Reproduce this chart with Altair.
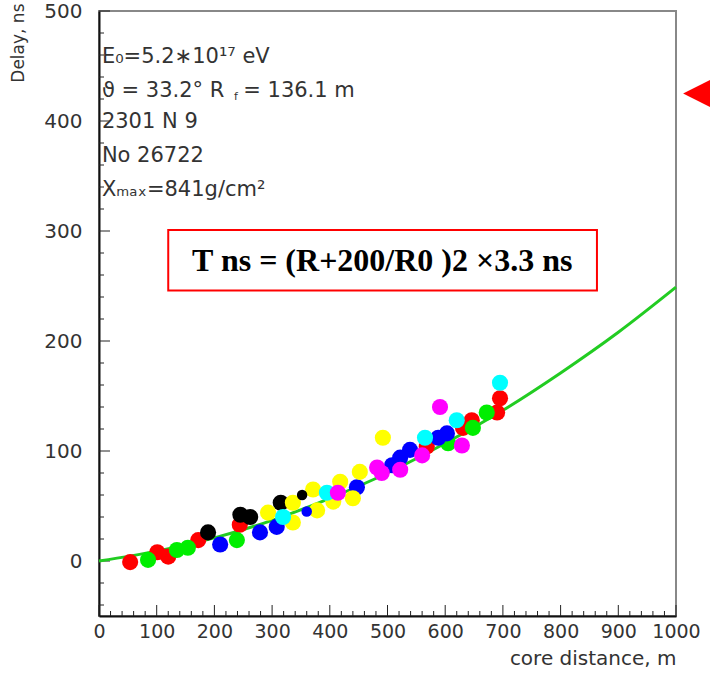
import altair as alt
import pandas as pd

# Fitted delay curve, T(R)
curve_r = [0, 100, 200, 300, 400, 500, 600, 700, 800, 900, 1000]
curve_t = [0, 9, 21, 37, 57, 80, 107, 137, 171, 208, 249]

# Measured delays per detector group: core distance (m) and delay (ns)
red_r = [54, 101, 120, 172, 244, 568, 631, 646, 690, 695]
red_t = [-1, 8, 4, 19, 33, 104, 121, 128, 135, 148]
green_r = [85, 135, 154, 239, 605, 648, 672]
green_t = [1, 10, 12, 19, 107, 121, 135]
blue_r = [210, 279, 308, 447, 508, 522, 539, 588, 603]
blue_t = [15, 26, 31, 67, 87, 94, 101, 112, 116]
black_r = [189, 245, 262, 315]
black_t = [26, 42, 40, 53]
yellow_r = [293, 336, 336, 371, 378, 406, 418, 440, 452, 492]
yellow_t = [44, 53, 35, 65, 46, 54, 72, 57, 81, 112]
cyan_r = [319, 395, 565, 620, 695]
cyan_t = [40, 62, 112, 128, 162]
magenta_r = [414, 482, 490, 522, 560, 591, 629]
magenta_t = [62, 85, 80, 83, 96, 140, 105]
# smaller hits
small_r = [352, 360]
small_t = [60, 45]
small_g = ["black", "blue"]

groups = {
    "red": (red_r, red_t),
    "green": (green_r, green_t),
    "blue": (blue_r, blue_t),
    "black": (black_r, black_t),
    "yellow": (yellow_r, yellow_t),
    "cyan": (cyan_r, cyan_t),
    "magenta": (magenta_r, magenta_t),
}
palette = {
    "red": "#ff0000", "green": "#00ee00", "blue": "#0000ff", "black": "#000000",
    "yellow": "#ffff00", "cyan": "#00ffff", "magenta": "#ff00ff",
}

rows = []
for g, (rs, ts) in groups.items():
    for r, t in zip(rs, ts):
        rows.append({"r": r, "t": t, "g": g})
pts = pd.DataFrame(rows)
small = pd.DataFrame({"r": small_r, "t": small_t, "g": small_g})
curve = pd.DataFrame({"r": curve_r, "t": curve_t})

x_ticks = list(range(0, 1001, 20))
y_ticks = list(range(-40, 501, 20))
x_major = pd.DataFrame({"v": [v for v in x_ticks if v % 100 == 0]})
x_minor = pd.DataFrame({"v": [v for v in x_ticks if v % 100 != 0]})
y_major = pd.DataFrame({"v": [v for v in y_ticks if v % 100 == 0]})
y_minor = pd.DataFrame({"v": [v for v in y_ticks if v % 100 != 0]})

W, H = 577, 605
FONT = "DejaVu Sans"
TXT = "#333"
xs = alt.Scale(domain=[0, 1000], nice=False, zero=False)
ys = alt.Scale(domain=[-50, 500], nice=False, zero=False)
cs = alt.Scale(domain=list(palette.keys()), range=list(palette.values()))

base_axes = alt.Chart(curve).mark_line(opacity=0).encode(
    x=alt.X("r:Q", scale=xs, axis=alt.Axis(
        title="core distance, m", values=list(range(0, 1001, 100)), format="d",
        tickSize=0, labelPadding=6, labelFontSize=19, labelFont=FONT, labelColor=TXT,
        labelOverlap=False, labelFlush=False,
        domainColor="#111", domainWidth=2, grid=False,
        titleFont=FONT, titleFontSize=20, titleFontWeight="normal", titleColor=TXT,
        titleAnchor="end", titlePadding=7)),
    y=alt.Y("t:Q", scale=ys, axis=alt.Axis(
        title="Delay, ns", values=list(range(0, 501, 100)), format="d",
        tickSize=0, labelPadding=17, labelFontSize=20, labelFont=FONT, labelColor=TXT,
        labelOverlap=False, labelFlush=False,
        domainColor="#111", domainWidth=2, grid=False,
        titleFont=FONT, titleFontSize=17, titleFontWeight="normal", titleColor=TXT,
        titleAnchor="end", titleX=-81, titleY=-8, titleAlign="right", titleBaseline="middle")),
)

def xtick(df, length):
    return alt.Chart(df).mark_rule(color="#222", strokeWidth=1).encode(
        x=alt.X("v:Q", scale=xs), y=alt.value(H), y2=alt.value(H - length))

def ytick(df, length):
    return alt.Chart(df).mark_rule(color="#222", strokeWidth=1).encode(
        y=alt.Y("v:Q", scale=ys), x=alt.value(0), x2=alt.value(length))

fit = alt.Chart(curve).mark_line(color="#22cc22", strokeWidth=3, interpolate="monotone").encode(
    x=alt.X("r:Q", scale=xs), y=alt.Y("t:Q", scale=ys))

dots = alt.Chart(pts).mark_circle(size=260, opacity=1).encode(
    x=alt.X("r:Q", scale=xs), y=alt.Y("t:Q", scale=ys),
    color=alt.Color("g:N", scale=cs, legend=None))

small_dots = alt.Chart(small).mark_circle(size=110, opacity=1).encode(
    x=alt.X("r:Q", scale=xs), y=alt.Y("t:Q", scale=ys),
    color=alt.Color("g:N", scale=cs, legend=None))

# event information block
info = pd.DataFrame({
    "r": [5, 5, 5, 5, 5, 250],
    "t": [458, 427, 399, 368, 337, 427],
    "txt": ["E\u2080=5.2\u221710\u00b9\u2077 eV", "\u03d1 = 33.2\u00b0  R",
            "2301 N 9", "No 26722", "X\u2098\u2090\u2093=841g/cm\u00b2", "= 136.1 m"],
})
info_text = alt.Chart(info).mark_text(
    align="left", baseline="middle", font=FONT, fontSize=21, color=TXT).encode(
    x=alt.X("r:Q", scale=xs), y=alt.Y("t:Q", scale=ys), text="txt:N")
sub = pd.DataFrame({"r": [234], "t": [422], "txt": ["f"]})
sub_text = alt.Chart(sub).mark_text(
    align="left", baseline="middle", font=FONT, fontSize=11, color=TXT).encode(
    x=alt.X("r:Q", scale=xs), y=alt.Y("t:Q", scale=ys), text="txt:N")

# formula box
box = pd.DataFrame({"r1": [120], "r2": [863], "t1": [246], "t2": [301]})
box_rect = alt.Chart(box).mark_rect(fill="white", stroke="#ff0000", strokeWidth=2).encode(
    x=alt.X("r1:Q", scale=xs), x2="r2:Q", y=alt.Y("t1:Q", scale=ys), y2="t2:Q")
formula = pd.DataFrame({"r": [491], "t": [273], "txt": ["T ns  = (R+200/R0 )2 \u00d73.3 ns"]})
formula_text = alt.Chart(formula).mark_text(
    font="Liberation Serif", fontWeight="bold", fontSize=32, color="#000",
    align="center", baseline="middle").encode(
    x=alt.X("r:Q", scale=xs), y=alt.Y("t:Q", scale=ys), text="txt:N")

# pointer outside the frame
arrow = pd.DataFrame({"r": [1047], "t": [425]})
arrow_mark = alt.Chart(arrow).mark_point(
    shape="M-1,0L1,-1L1,1Z", size=1600, filled=True, fill="#ff0000",
    opacity=1, clip=False).encode(
    x=alt.X("r:Q", scale=xs), y=alt.Y("t:Q", scale=ys))

chart = alt.layer(
    base_axes,
    xtick(x_major, 11), xtick(x_minor, 5), ytick(y_major, 11), ytick(y_minor, 5),
    fit, dots, small_dots, info_text, sub_text, box_rect, formula_text, arrow_mark,
).properties(
    width=W, height=H,
    autosize=alt.AutoSizeParams(type="none"),
    padding={"left": 99, "top": 11, "right": 34, "bottom": 58},
    background="white",
).configure_view(stroke="#888", strokeWidth=2)

chart.save("out.html", embed_options={"renderer": "svg", "actions": False})
